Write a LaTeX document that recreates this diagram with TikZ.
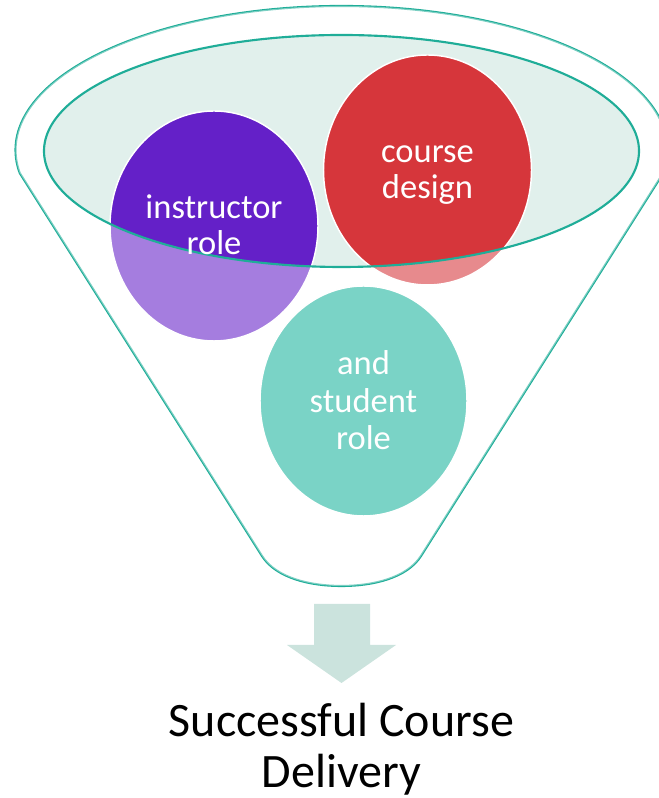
\documentclass[tikz,border=0pt]{standalone}
\usepackage{fontspec}
\setmainfont{Carlito}
\usetikzlibrary{shapes.geometric}
\definecolor{tealline}{HTML}{1FAD98}
\definecolor{innerfill}{HTML}{E1F0EC}
\definecolor{arrowfill}{HTML}{CBE3DD}
\definecolor{purpleball}{HTML}{6420C8}
\definecolor{redball}{HTML}{D6363B}
\definecolor{tealball}{HTML}{1BB49D}
\begin{document}
\begin{tikzpicture}[x=0.75pt,y=0.75pt,
  funnelline/.style={draw=tealline, line width=1.6pt},
  ball/.style={ellipse, draw=white, line width=1.1pt, inner sep=0pt,
    minimum width=156pt, minimum height=172.5pt},
  balltext/.style={text=white, align=center, inner sep=0pt,
    font=\fontsize{25.9}{27}\selectfont},
  bottomtext/.style={text=black, align=center, inner sep=0pt,
    font=\fontsize{36}{37.5}\selectfont},
]
\useasboundingbox (0,0) rectangle (658,798);
% funnel outline
\draw[funnelline] (663.3,625) arc[start angle=-9.2, end angle=189.2, x radius=326, y radius=144]
  -- (262,242) .. controls (276,220) and (310,212) .. (341.5,212)
  .. controls (373,212) and (407,220) .. (421,242) -- cycle;
% inner ellipse fill
\fill[innerfill] (341.5,647) ellipse[x radius=297.5, y radius=116];
% balls
\node[ball, fill=purpleball] (instr) at (214,572) {};
\node[ball, fill=redball] (course) at (427.5,628) {};
\node[ball, fill=tealball, minimum width=155.25pt] (student) at (363.5,397) {};
% white veil on the lower body of the funnel
\fill[white, fill opacity=0.42, even odd rule]
  (663.3,625) arc[start angle=-9.2, end angle=189.2, x radius=326, y radius=144]
  -- (262,242) .. controls (276,220) and (310,212) .. (341.5,212)
  .. controls (373,212) and (407,220) .. (421,242) -- cycle
  (341.5,647) ellipse[x radius=297.5, y radius=116];
% inner ellipse outline
\draw[funnelline] (341.5,647) ellipse[x radius=297.5, y radius=116];
% texts
\node[balltext] (instrtext) at ([yshift=-2.3pt]instr.center) {\strut instructor\\\strut role};
\node[balltext] (coursetext) at ([yshift=-2.6pt]course.center) {\strut course\\\strut design};
\node[balltext, font=\fontsize{25.9}{28.3}\selectfont] (studenttext) at ([yshift=-2.6pt]student.center) {\strut and\\\strut student\\\strut role};
% arrow
\fill[arrowfill] (314,194) -- (370,194) -- (370,153) -- (396,153) -- (341.5,115)
  -- (287,153) -- (314,153) -- cycle;
\node[bottomtext] (result) at (341.5,46) {\strut Successful Course\\\strut Delivery};
\end{tikzpicture}
\end{document}
